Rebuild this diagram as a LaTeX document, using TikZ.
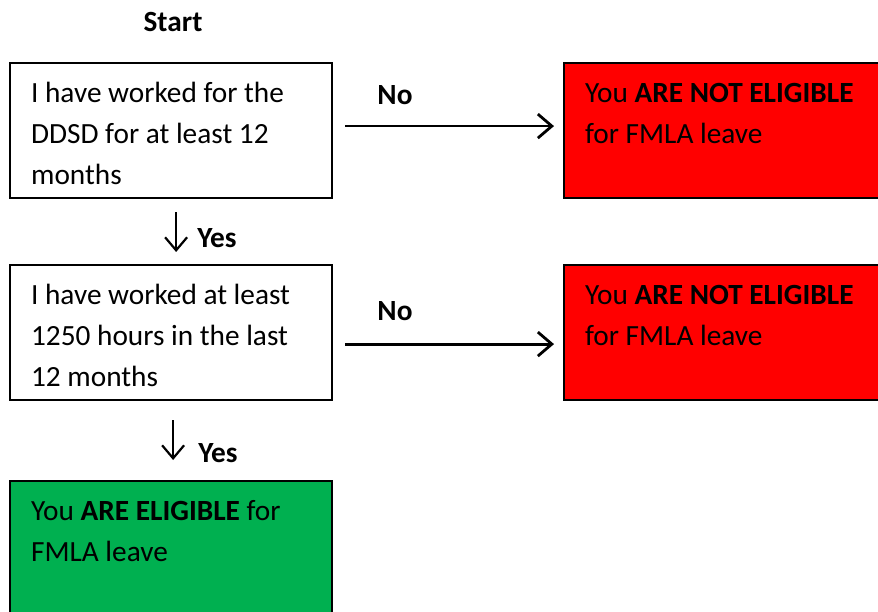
\documentclass[tikz,border=0pt]{standalone}
\usepackage{fontspec}
\setmainfont{Carlito}
\usetikzlibrary{arrows.meta,positioning}

\definecolor{notok}{HTML}{FF0000}
\definecolor{isok}{HTML}{00B050}

\tikzset{
  stepbox/.style={draw, line width=2.2pt, anchor=north west,
    text width=280pt, align=left, inner xsep=21pt, inner ysep=0pt,
    text height=39pt, text depth=96pt,
    execute at begin node={\spaceskip=0pt\xspaceskip=0pt}},
  tag/.style={font=\fontsize{29.3}{41}\selectfont\bfseries},
  noarrow/.style={line width=2.8pt, -{Straight Barb[length=14pt,width=24pt]}},
  yesarrow/.style={line width=2.2pt, -{Straight Barb[length=13pt,width=22pt]}}
}

\begin{document}
\begin{tikzpicture}[x=1pt, y=-1pt, font=\fontsize{29.3}{41}\selectfont]
  \useasboundingbox (0,0) rectangle (878,612);
  \clip (0,0) rectangle (878,612);

  % questions down the left, answers on the right
  \node[tag] (start) at (173,22) {Start};
  \node[stepbox, fill=white] (q1) at (9,62)
    {I have worked for the\\DDSD for at least 12\\months};
  \node[stepbox, fill=notok] (r1) at (563,62)
    {You \textbf{ARE NOT ELIGIBLE}\\for FMLA leave};
  \node[stepbox, fill=white] (q2) at (9,264)
    {I have worked at least\\1250 hours in the last\\12 months};
  \node[stepbox, fill=notok] (r2) at (563,264)
    {You \textbf{ARE NOT ELIGIBLE}\\for FMLA leave};
  \node[stepbox, fill=isok] (ok) at (9,480)
    {You \textbf{ARE ELIGIBLE} for\\FMLA leave};

  % answers
  \draw[noarrow, shorten <=12pt, shorten >=9pt]
    ([yshift=4.5pt]q1.east) -- ([yshift=4.5pt]q1.east -| r1.west);
  \draw[noarrow, shorten <=12pt, shorten >=9pt]
    ([yshift=-11.5pt]q2.east) -- ([yshift=-11.5pt]q2.east -| r2.west);
  \draw[yesarrow, shorten <=13pt, shorten >=12pt]
    ([xshift=5pt]q1.south) -- ([xshift=5pt]q2.north);
  \draw[yesarrow, shorten <=19pt, shorten >=20pt]
    ([xshift=2pt]q2.south) -- ([xshift=2pt]ok.north);

  \node[tag] (no1) at (395,95) {No};
  \node[tag] (no2) at (395,311) {No};
  \node[tag] (yes1) at (217,238) {Yes};
  \node[tag] (yes2) at (218,453) {Yes};
\end{tikzpicture}
\end{document}
